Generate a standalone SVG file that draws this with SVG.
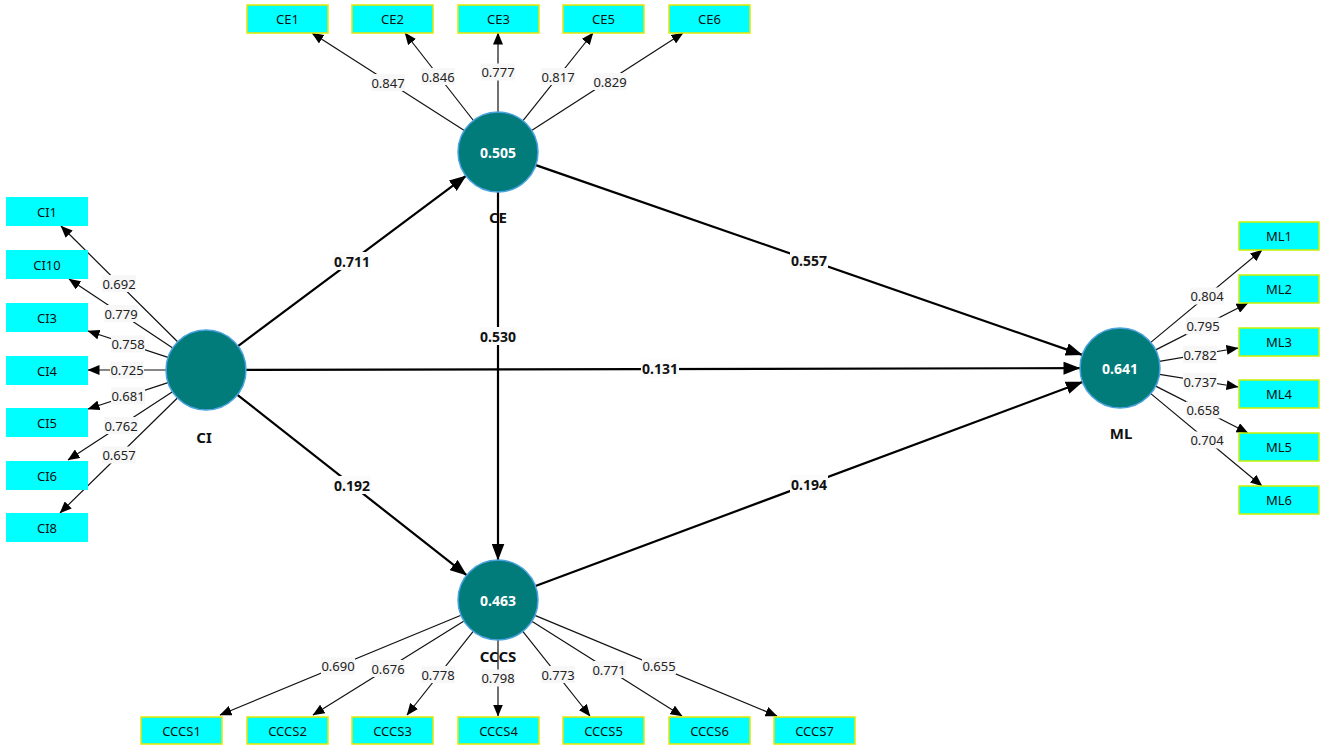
<svg xmlns="http://www.w3.org/2000/svg" width="1325" height="751" viewBox="0 0 1325 751">
<style>
text{font-family:"Noto Sans","Liberation Sans",sans-serif;dominant-baseline:central;text-anchor:middle}
.lv{font-size:13px;fill:#222}
.pv{font-size:14px;font-weight:bold;fill:#111}
.ind{font-size:13px;fill:#111}
.nm{font-size:15px;font-weight:bold;fill:#111}
.rv{font-size:14px;font-weight:bold;fill:#fff}
.ld{stroke:#111;stroke-width:1.2;fill:none;marker-end:url(#ah)}
.st{stroke:#000;stroke-width:2.2;fill:none;marker-end:url(#ahb)}
.lb{fill:#f7f7f7}
.pb{fill:#fbfbfb}
.lat{fill:#027b7b;stroke:#4aa3df;stroke-width:1.5}
.bce{fill:#00ffff;stroke:#e6e600;stroke-width:1.5}
.bci{fill:#00ffff}
.bml{fill:#00ffff;stroke:#c8f000;stroke-width:1.5}
</style>
<defs>
<marker id="ah" viewBox="0 0 12 10" refX="11.5" refY="5" markerWidth="12" markerHeight="10" markerUnits="userSpaceOnUse" orient="auto"><path d="M0,0 L12,5 L0,10 z" fill="#000"/></marker>
<marker id="ahb" viewBox="0 0 17 13" refX="16.5" refY="6.5" markerWidth="17" markerHeight="13" markerUnits="userSpaceOnUse" orient="auto"><path d="M0,0 L17,6.5 L0,13 z" fill="#000"/></marker>
</defs>
<rect width="1325" height="751" fill="#fff"/>
<g id="connectors">
<!-- structural -->
<line class="st" x1="238" y1="346.1" x2="466" y2="175.9"/>
<line class="st" x1="535.8" y1="165.1" x2="1082.2" y2="354.9"/>
<line class="st" x1="246" y1="369.9" x2="1080" y2="368.1"/>
<line class="st" x1="498" y1="192" x2="498" y2="560"/>
<line class="st" x1="237.4" y1="394.8" x2="466.6" y2="575.2"/>
<line class="st" x1="535.5" y1="586" x2="1082.5" y2="382"/>
<!-- CE loadings -->
<line class="ld" x1="464.3" y1="130.4" x2="312" y2="33"/>
<line class="ld" x1="473.4" y1="120.5" x2="405" y2="33"/>
<line class="ld" x1="498" y1="112" x2="498" y2="33"/>
<line class="ld" x1="523" y1="120.7" x2="593" y2="33"/>
<line class="ld" x1="531.6" y1="130.4" x2="683" y2="33"/>
<!-- CI loadings -->
<line class="ld" x1="177.6" y1="341.8" x2="61" y2="226"/>
<line class="ld" x1="172.7" y1="347.9" x2="69" y2="279"/>
<line class="ld" x1="168" y1="357.4" x2="88" y2="331"/>
<line class="ld" x1="166" y1="370" x2="88" y2="370"/>
<line class="ld" x1="168" y1="382.6" x2="88" y2="409"/>
<line class="ld" x1="172.5" y1="391.8" x2="68" y2="460"/>
<line class="ld" x1="177.4" y1="398" x2="60" y2="513"/>
<!-- ML loadings -->
<line class="ld" x1="1150.8" y1="342.4" x2="1262" y2="250"/>
<line class="ld" x1="1155.7" y1="349.9" x2="1248" y2="303"/>
<line class="ld" x1="1159.4" y1="361.3" x2="1238" y2="348"/>
<line class="ld" x1="1159.5" y1="374.4" x2="1238" y2="387"/>
<line class="ld" x1="1155.7" y1="386.1" x2="1248" y2="433"/>
<line class="ld" x1="1150.8" y1="393.6" x2="1262" y2="486"/>
<!-- CCCS loadings -->
<line class="ld" x1="461" y1="615.3" x2="220" y2="715"/>
<line class="ld" x1="464" y1="621.1" x2="313" y2="715"/>
<line class="ld" x1="473.2" y1="631.4" x2="407" y2="715"/>
<line class="ld" x1="498" y1="640" x2="498" y2="716"/>
<line class="ld" x1="522.8" y1="631.3" x2="590" y2="716"/>
<line class="ld" x1="531.8" y1="621.3" x2="682" y2="716"/>
<line class="ld" x1="534.9" y1="615.4" x2="777" y2="716"/>
<!-- structural labels -->
<g>
<rect class="pb" x="333" y="252" width="38" height="18"/><text class="pv" x="352" y="261">0.711</text>
<rect class="pb" x="790" y="251" width="38" height="18"/><text class="pv" x="809" y="260">0.557</text>
<rect class="pb" x="641" y="359.5" width="38" height="18"/><text class="pv" x="660" y="368.5">0.131</text>
<rect class="pb" x="479" y="327" width="38" height="18"/><text class="pv" x="498" y="336">0.530</text>
<rect class="pb" x="333" y="476" width="38" height="18"/><text class="pv" x="352" y="485">0.192</text>
<rect class="pb" x="790" y="475" width="38" height="18"/><text class="pv" x="809" y="484">0.194</text>
</g>
<!-- loading labels -->
<g>
<rect class="lb" x="371" y="74" width="34" height="17"/><text class="lv" x="388" y="82.5">0.847</text>
<rect class="lb" x="421" y="68" width="34" height="17"/><text class="lv" x="438" y="76.5">0.846</text>
<rect class="lb" x="481" y="63.5" width="34" height="17"/><text class="lv" x="498" y="72">0.777</text>
<rect class="lb" x="541" y="68" width="34" height="17"/><text class="lv" x="558" y="76.5">0.817</text>
<rect class="lb" x="593" y="73" width="34" height="17"/><text class="lv" x="610" y="81.5">0.829</text>

<rect class="lb" x="102" y="275" width="34" height="17"/><text class="lv" x="119" y="283.5">0.692</text>
<rect class="lb" x="104" y="305" width="34" height="17"/><text class="lv" x="121" y="313.5">0.779</text>
<rect class="lb" x="111" y="335.5" width="34" height="17"/><text class="lv" x="128" y="344">0.758</text>
<rect class="lb" x="110" y="361.5" width="34" height="17"/><text class="lv" x="127" y="370">0.725</text>
<rect class="lb" x="111" y="387.5" width="34" height="17"/><text class="lv" x="128" y="396">0.681</text>
<rect class="lb" x="104" y="417" width="34" height="17"/><text class="lv" x="121" y="425.5">0.762</text>
<rect class="lb" x="102" y="446.5" width="34" height="17"/><text class="lv" x="119" y="455">0.657</text>

<rect class="lb" x="1190" y="287.5" width="34" height="17"/><text class="lv" x="1207" y="296">0.804</text>
<rect class="lb" x="1186" y="317.5" width="34" height="17"/><text class="lv" x="1203" y="326">0.795</text>
<rect class="lb" x="1183" y="346" width="34" height="17"/><text class="lv" x="1200" y="354.5">0.782</text>
<rect class="lb" x="1183" y="373" width="34" height="17"/><text class="lv" x="1200" y="381.5">0.737</text>
<rect class="lb" x="1186" y="401.5" width="34" height="17"/><text class="lv" x="1203" y="410">0.658</text>
<rect class="lb" x="1190" y="431.5" width="34" height="17"/><text class="lv" x="1207" y="440">0.704</text>

<rect class="lb" x="321" y="657.5" width="34" height="17"/><text class="lv" x="338" y="666">0.690</text>
<rect class="lb" x="371" y="660" width="34" height="17"/><text class="lv" x="388" y="668.5">0.676</text>
<rect class="lb" x="421" y="666" width="34" height="17"/><text class="lv" x="438" y="674.5">0.778</text>
<rect class="lb" x="481" y="669.5" width="34" height="17"/><text class="lv" x="498" y="678">0.798</text>
<rect class="lb" x="541" y="666" width="34" height="17"/><text class="lv" x="558" y="674.5">0.773</text>
<rect class="lb" x="592" y="661" width="34" height="17"/><text class="lv" x="609" y="669.5">0.771</text>
<rect class="lb" x="642" y="657.5" width="34" height="17"/><text class="lv" x="659" y="666">0.655</text>
</g>
</g>
<g id="CI"><circle class="lat" cx="206" cy="370" r="40"/><text class="nm" x="204" y="437">CI</text></g>
<g id="CE"><circle class="lat" cx="498" cy="152" r="40"/><text class="rv" x="498" y="152">0.505</text><text class="nm" x="498" y="217">CE</text></g>
<g id="ML"><circle class="lat" cx="1120" cy="368" r="40"/><text class="rv" x="1120" y="368">0.641</text><text class="nm" x="1121" y="433">ML</text></g>
<g id="CCCS"><circle class="lat" cx="498" cy="600" r="40"/><text class="rv" x="498" y="600">0.463</text><text class="nm" x="498" y="656">CCCS</text></g>
<g id="CE1"><rect class="bce" x="247" y="5" width="81" height="28"/><text class="ind" x="287.5" y="19">CE1</text></g>
<g id="CE2"><rect class="bce" x="352" y="5" width="81" height="28"/><text class="ind" x="392.5" y="19">CE2</text></g>
<g id="CE3"><rect class="bce" x="458" y="5" width="81" height="28"/><text class="ind" x="498.5" y="19">CE3</text></g>
<g id="CE5"><rect class="bce" x="563" y="5" width="81" height="28"/><text class="ind" x="603.5" y="19">CE5</text></g>
<g id="CE6"><rect class="bce" x="669" y="5" width="81" height="28"/><text class="ind" x="709.5" y="19">CE6</text></g>
<g id="CI1"><rect class="bci" x="6" y="197" width="82" height="29"/><text class="ind" x="47" y="211.5">CI1</text></g>
<g id="CI10"><rect class="bci" x="6" y="250" width="82" height="29"/><text class="ind" x="47" y="264.5">CI10</text></g>
<g id="CI3"><rect class="bci" x="6" y="303" width="82" height="29"/><text class="ind" x="47" y="317.5">CI3</text></g>
<g id="CI4"><rect class="bci" x="6" y="356" width="82" height="29"/><text class="ind" x="47" y="370.5">CI4</text></g>
<g id="CI5"><rect class="bci" x="6" y="408" width="82" height="29"/><text class="ind" x="47" y="422.5">CI5</text></g>
<g id="CI6"><rect class="bci" x="6" y="461" width="82" height="29"/><text class="ind" x="47" y="475.5">CI6</text></g>
<g id="CI8"><rect class="bci" x="6" y="513" width="82" height="29"/><text class="ind" x="47" y="527.5">CI8</text></g>
<g id="ML1"><rect class="bml" x="1239" y="222" width="80" height="28"/><text class="ind" x="1279" y="236">ML1</text></g>
<g id="ML2"><rect class="bml" x="1239" y="275" width="80" height="28"/><text class="ind" x="1279" y="289">ML2</text></g>
<g id="ML3"><rect class="bml" x="1239" y="328" width="80" height="28"/><text class="ind" x="1279" y="342">ML3</text></g>
<g id="ML4"><rect class="bml" x="1239" y="380" width="80" height="28"/><text class="ind" x="1279" y="394">ML4</text></g>
<g id="ML5"><rect class="bml" x="1239" y="433" width="80" height="28"/><text class="ind" x="1279" y="447">ML5</text></g>
<g id="ML6"><rect class="bml" x="1239" y="486" width="80" height="28"/><text class="ind" x="1279" y="500">ML6</text></g>
<g id="CCCS1"><rect class="bce" x="141" y="717" width="81" height="27"/><text class="ind" x="181.5" y="730.5">CCCS1</text></g>
<g id="CCCS2"><rect class="bce" x="247" y="717" width="81" height="27"/><text class="ind" x="287.5" y="730.5">CCCS2</text></g>
<g id="CCCS3"><rect class="bce" x="352" y="717" width="81" height="27"/><text class="ind" x="392.5" y="730.5">CCCS3</text></g>
<g id="CCCS4"><rect class="bce" x="458" y="717" width="81" height="27"/><text class="ind" x="498.5" y="730.5">CCCS4</text></g>
<g id="CCCS5"><rect class="bce" x="563" y="717" width="81" height="27"/><text class="ind" x="603.5" y="730.5">CCCS5</text></g>
<g id="CCCS6"><rect class="bce" x="669" y="717" width="81" height="27"/><text class="ind" x="709.5" y="730.5">CCCS6</text></g>
<g id="CCCS7"><rect class="bce" x="774" y="717" width="81" height="27"/><text class="ind" x="814.5" y="730.5">CCCS7</text></g>
</svg>
